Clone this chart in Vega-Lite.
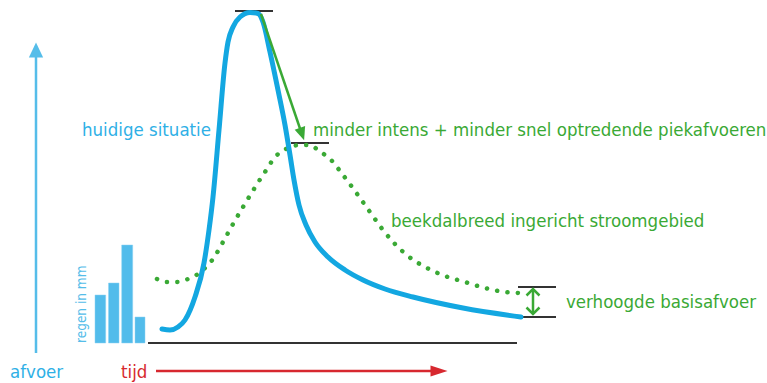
{
  "$schema": "https://vega.github.io/schema/vega-lite/v6.json",
  "width": 767,
  "height": 383,
  "autosize": {"type": "none"},
  "padding": 0,
  "background": "white",
  "config": {"view": {"stroke": null}, "axis": {"disable": true}},
  "datasets": {
    "huidig": [
      {"t": 162, "q": 54}, {"t": 170, "q": 53}, {"t": 178, "q": 56}, {"t": 185, "q": 63},
      {"t": 195, "q": 86}, {"t": 204, "q": 120}, {"t": 209, "q": 153}, {"t": 213, "q": 186},
      {"t": 219, "q": 253}, {"t": 225, "q": 320}, {"t": 228, "q": 341}, {"t": 233, "q": 356},
      {"t": 240, "q": 366}, {"t": 250, "q": 370.5}, {"t": 258, "q": 369.5}, {"t": 263, "q": 361},
      {"t": 270, "q": 331}, {"t": 278, "q": 293}, {"t": 285, "q": 258}, {"t": 290, "q": 228},
      {"t": 294, "q": 203}, {"t": 299, "q": 178}, {"t": 306, "q": 158}, {"t": 315, "q": 141},
      {"t": 328, "q": 126}, {"t": 345, "q": 113}, {"t": 363, "q": 103}, {"t": 385, "q": 94},
      {"t": 413, "q": 86}, {"t": 463, "q": 75}, {"t": 521, "q": 66}
    ],
    "beekdal": [
      {"t": 157, "q": 104}, {"t": 167, "q": 101}, {"t": 177, "q": 101}, {"t": 188, "q": 104},
      {"t": 198, "q": 109}, {"t": 206, "q": 116}, {"t": 213, "q": 124}, {"t": 223, "q": 141},
      {"t": 233, "q": 159}, {"t": 243, "q": 176}, {"t": 254, "q": 194}, {"t": 259, "q": 202},
      {"t": 265, "q": 211}, {"t": 270, "q": 219}, {"t": 275, "q": 226}, {"t": 283, "q": 232},
      {"t": 292, "q": 237}, {"t": 302, "q": 238}, {"t": 310, "q": 238}, {"t": 318, "q": 233},
      {"t": 325, "q": 228}, {"t": 333, "q": 221}, {"t": 340, "q": 212}, {"t": 355, "q": 192},
      {"t": 370, "q": 171}, {"t": 383, "q": 153}, {"t": 395, "q": 139}, {"t": 408, "q": 127},
      {"t": 427, "q": 115}, {"t": 445, "q": 107}, {"t": 465, "q": 101}, {"t": 485, "q": 95},
      {"t": 505, "q": 91}, {"t": 520, "q": 90}
    ],
    "regen": [
      {"t0": 95, "t1": 105.7, "mm": 88},
      {"t0": 108.5, "t1": 119, "mm": 100},
      {"t0": 121.7, "t1": 132.7, "mm": 138},
      {"t0": 135, "t1": 145, "mm": 66}
    ],
    "niveaus": [
      {"t0": 148, "t1": 517, "q": 40},
      {"t0": 235, "t1": 273, "q": 372},
      {"t0": 291, "t1": 329, "q": 240},
      {"t0": 518, "t1": 556, "q": 96},
      {"t0": 522, "t1": 556, "q": 66}
    ],
    "pijlen": [
      {"id": "afvoer", "t0": 36, "q0": 30, "t1": 36, "q1": 326},
      {"id": "tijd", "t0": 156, "q0": 12, "t1": 432, "q1": 12},
      {"id": "piek", "t0": 261, "q0": 369, "t1": 300.5, "q1": 253},
      {"id": "basis", "t0": 533, "q0": 70, "t1": 533, "q1": 93}
    ],
    "teksten": [
      {"t": 82, "q": 247, "label": "huidige situatie", "kleur": "blauw"},
      {"t": 313, "q": 247, "label": "minder intens + minder snel optredende piekafvoeren", "kleur": "groen"},
      {"t": 391, "q": 156, "label": "beekdalbreed ingericht stroomgebied", "kleur": "groen"},
      {"t": 566, "q": 75, "label": "verhoogde basisafvoer", "kleur": "groen"},
      {"t": 10, "q": 5, "label": "afvoer", "kleur": "blauw"},
      {"t": 121, "q": 5, "label": "tijd", "kleur": "rood"}
    ]
  },
  "encoding": {
    "x": {"type": "quantitative", "scale": {"domain": [0, 767], "nice": false, "zero": false}},
    "y": {"type": "quantitative", "scale": {"domain": [0, 383], "nice": false, "zero": false}}
  },
  "resolve": {"scale": {"color": "independent"}},
  "layer": [
    {
      "data": {"name": "regen"},
      "mark": {"type": "bar", "color": "#52bceb", "stroke": "#8fd3f2", "strokeWidth": 0.5},
      "encoding": {
        "x": {"field": "t0", "type": "quantitative"},
        "x2": {"field": "t1"},
        "y": {"field": "mm", "type": "quantitative"},
        "y2": {"datum": 40}
      }
    },
    {
      "data": {"name": "niveaus"},
      "mark": {"type": "rule", "color": "#333333", "strokeWidth": 2},
      "encoding": {
        "x": {"field": "t0", "type": "quantitative"},
        "x2": {"field": "t1"},
        "y": {"field": "q", "type": "quantitative"}
      }
    },
    {
      "data": {"name": "beekdal"},
      "mark": {"type": "line", "color": "#3aa935", "strokeWidth": 4.5, "strokeCap": "round", "strokeDash": [0.1, 10.3], "interpolate": "monotone"},
      "encoding": {
        "x": {"field": "t", "type": "quantitative"},
        "y": {"field": "q", "type": "quantitative"}
      }
    },
    {
      "data": {"name": "huidig"},
      "mark": {"type": "line", "color": "#13a7e1", "strokeWidth": 5, "strokeCap": "round", "interpolate": "monotone"},
      "encoding": {
        "x": {"field": "t", "type": "quantitative"},
        "y": {"field": "q", "type": "quantitative"}
      }
    },
    {
      "data": {"name": "pijlen"},
      "mark": {"type": "rule", "strokeWidth": 2.5},
      "encoding": {
        "x": {"field": "t0", "type": "quantitative"},
        "x2": {"field": "t1"},
        "y": {"field": "q0", "type": "quantitative"},
        "y2": {"field": "q1"},
        "color": {"field": "id", "type": "nominal", "legend": null,
          "scale": {"domain": ["afvoer", "tijd", "piek", "basis"], "range": ["#55bde9", "#d7282f", "#3aa935", "#3aa935"]}}
      }
    },
    {
      "data": {"name": "pijlen"},
      "transform": [{"filter": "datum.id === 'afvoer'"}],
      "mark": {"type": "point", "shape": "M0,-1L0.95,1L-0.95,1Z", "filled": true, "opacity": 1, "color": "#55bde9", "size": 225},
      "encoding": {
        "x": {"field": "t1", "type": "quantitative"},
        "y": {"datum": 333}
      }
    },
    {
      "data": {"name": "pijlen"},
      "transform": [{"filter": "datum.id === 'tijd'"}],
      "mark": {"type": "point", "shape": "M1,0L-1,-0.65L-1,0.65Z", "filled": true, "opacity": 1, "color": "#d7282f", "size": 289},
      "encoding": {
        "x": {"datum": 439},
        "y": {"field": "q1", "type": "quantitative"}
      }
    },
    {
      "data": {"name": "pijlen"},
      "transform": [{"filter": "datum.id === 'piek'"}],
      "mark": {"type": "point", "shape": "M0,1L-0.85,-1L0.85,-1Z", "filled": true, "opacity": 1, "color": "#3aa935", "size": 169, "angle": -19},
      "encoding": {
        "x": {"datum": 302},
        "y": {"datum": 249}
      }
    },
    {
      "data": {"name": "pijlen"},
      "transform": [{"filter": "datum.id === 'basis'"}],
      "mark": {"type": "point", "shape": "M-1,0.5L0,-0.5L1,0.5", "filled": false, "opacity": 1, "color": "#3aa935", "strokeWidth": 2.5, "size": 169},
      "encoding": {
        "x": {"field": "t1", "type": "quantitative"},
        "y": {"datum": 90.75}
      }
    },
    {
      "data": {"name": "pijlen"},
      "transform": [{"filter": "datum.id === 'basis'"}],
      "mark": {"type": "point", "shape": "M-1,-0.5L0,0.5L1,-0.5", "filled": false, "opacity": 1, "color": "#3aa935", "strokeWidth": 2.5, "size": 169},
      "encoding": {
        "x": {"field": "t0", "type": "quantitative"},
        "y": {"datum": 72.25}
      }
    },
    {
      "data": {"name": "teksten"},
      "mark": {"type": "text", "align": "left", "baseline": "alphabetic", "font": "DejaVu Sans Condensed", "fontSize": 18.5},
      "encoding": {
        "x": {"field": "t", "type": "quantitative"},
        "y": {"field": "q", "type": "quantitative"},
        "text": {"field": "label"},
        "color": {"field": "kleur", "type": "nominal", "legend": null,
          "scale": {"domain": ["blauw", "groen", "rood"], "range": ["#2fb0e6", "#3aa935", "#d7282f"]}}
      }
    },
    {
      "data": {"values": [{"t": 86, "q": 40, "label": "regen in mm"}]},
      "mark": {"type": "text", "align": "left", "baseline": "alphabetic", "angle": 270, "font": "DejaVu Sans Condensed", "fontSize": 13.5, "color": "#55bde9"},
      "encoding": {
        "x": {"field": "t", "type": "quantitative"},
        "y": {"field": "q", "type": "quantitative"},
        "text": {"field": "label"}
      }
    }
  ]
}
